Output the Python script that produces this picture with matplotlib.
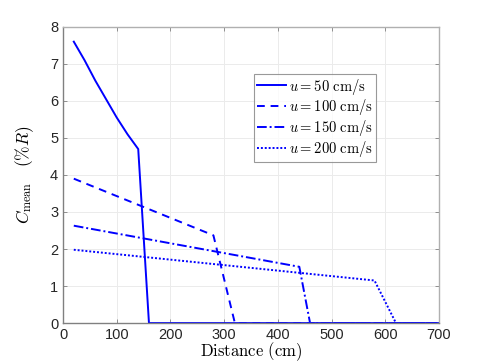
import numpy as np
import matplotlib
matplotlib.use("Agg")
import matplotlib.pyplot as plt

plt.rcParams['mathtext.fontset'] = 'cm'
plt.rcParams['font.family'] = ['Liberation Sans', 'DejaVu Sans']

# data
x_50 = [20, 40, 60, 80, 100, 120, 140, 160, 700]
y_50 = [7.6, 7.1, 6.55, 6.05, 5.55, 5.1, 4.7, 0, 0]

x_100 = [20, 280, 320, 700]
y_100 = [3.9, 2.37, 0, 0]

x_150 = [20, 440, 460, 700]
y_150 = [2.63, 1.52, 0, 0]

x_200 = [20, 580, 620, 700]
y_200 = [1.98, 1.15, 0, 0]

labels = [r'$u = 50\ \mathrm{cm/s}$', r'$u = 100\ \mathrm{cm/s}$',
          r'$u = 150\ \mathrm{cm/s}$', r'$u = 200\ \mathrm{cm/s}$']

fig = plt.figure(figsize=(4.85, 3.63), dpi=100)
ax = fig.add_axes([0.130, 0.110, 0.775, 0.816])

blue = '#0000ff'
ax.plot(x_50, y_50, '-', color=blue, lw=1.4, label=labels[0])
ax.plot(x_100, y_100, '--', color=blue, lw=1.4, dashes=(4, 3), label=labels[1])
ax.plot(x_150, y_150, '-.', color=blue, lw=1.4, dashes=(5, 1.5, 1, 1.5), label=labels[2])
ax.plot(x_200, y_200, ':', color=blue, lw=1.4, dashes=(1, 1), label=labels[3])

ax.set_xlim(0, 700)
ax.set_ylim(0, 8)
ax.set_xticks(np.arange(0, 701, 100))
ax.set_yticks(np.arange(0, 9, 1))
ax.grid(True, color='#ebebeb', lw=0.7)
ax.set_axisbelow(True)

for side in ['bottom', 'left']:
    ax.spines[side].set_color('#808080')
for side in ['top', 'right']:
    ax.spines[side].set_color('#b0b0b0')
for s in ax.spines.values():
    s.set_linewidth(1.0)
ax.tick_params(direction='in', length=3, width=0.6, color='#808080',
               labelsize=10.5, labelcolor='#262626', top=True, right=True)

ax.set_xlabel(r'$\mathrm{Distance\ (cm)}$', fontsize=12, labelpad=-1)
ax.set_ylabel(r'$C_{\mathrm{mean}}\quad (\%R)$', fontsize=12.5, labelpad=10)

leg = ax.legend(loc='upper left', bbox_to_anchor=(0.508, 0.842), fontsize=10.5,
                frameon=True, fancybox=False, handlelength=2.0, handletextpad=0.2,
                borderpad=0.2, labelspacing=0.05, borderaxespad=0)
leg.get_frame().set_edgecolor('#808080')
leg.get_frame().set_linewidth(0.8)

fig.savefig('out.png', dpi=100)
